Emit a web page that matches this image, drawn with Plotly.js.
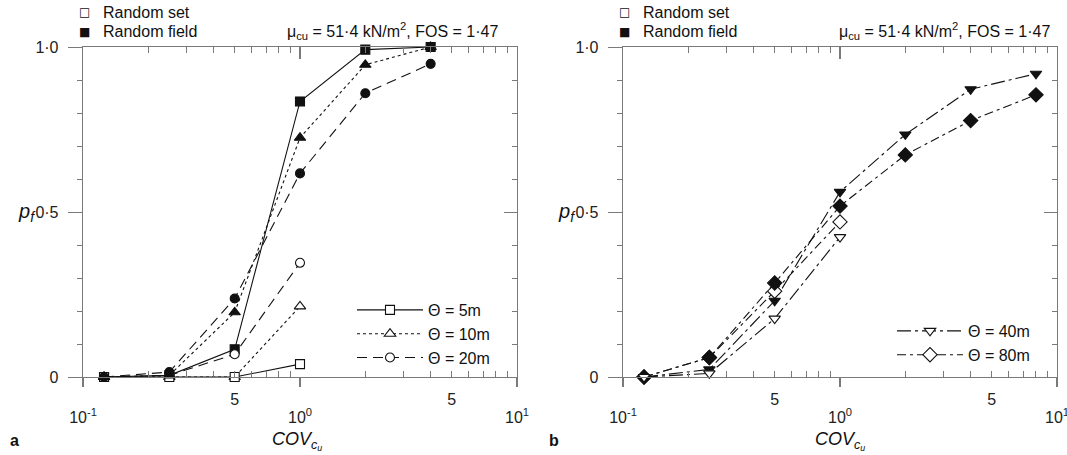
<!DOCTYPE html>
<html>
<head>
<meta charset="utf-8">
<script src="https://cdn.plot.ly/plotly-3.0.1.min.js"></script>
<style>html,body{margin:0;padding:0;background:#fff;}#chart{width:1067px;height:455px;}</style>
</head>
<body>
<div id="chart"></div>
<script>
// ---------- DATA ----------
const covA_field = [0.125, 0.25, 0.5, 1, 2, 4];
const covA_set   = [0.125, 0.25, 0.5, 1];
const covB_field = [0.125, 0.25, 0.5, 1, 2, 4, 8];
const covB_set   = [0.125, 0.25, 0.5, 1];

// panel a, random field (filled)
const pfA_field_5m  = [0, 0.005, 0.084, 0.835, 0.992, 1.0];
const pfA_field_10m = [0, 0.005, 0.196, 0.725, 0.946, 1.0];
const pfA_field_20m = [0, 0.015, 0.238, 0.617, 0.860, 0.949];
// panel a, random set (open)
const pfA_set_5m  = [0, 0, 0, 0.039];
const pfA_set_10m = [0, 0, 0, 0.214];
const pfA_set_20m = [0, 0.005, 0.069, 0.346];

// panel b, random field (filled)
const pfB_field_40m = [0, 0.023, 0.231, 0.561, 0.735, 0.872, 0.919];
const pfB_field_80m = [0, 0.059, 0.285, 0.518, 0.673, 0.777, 0.855];
// panel b, random set (open)
const pfB_set_40m = [0, 0.011, 0.177, 0.424];
const pfB_set_80m = [0, 0.059, 0.260, 0.470];

const legendNames = ['Θ = 5m', 'Θ = 10m', 'Θ = 20m', 'Θ = 40m', 'Θ = 80m'];
const yMajorVals = [0, 0.5, 1];
const yMajorText = ['0', '0·5', '1·0'];
const yMinorVals = [0.1, 0.2, 0.3, 0.4, 0.6, 0.7, 0.8, 0.9];
const xMinorVals = [0.2, 0.3, 0.4, 0.5, 0.6, 0.7, 0.8, 0.9, 2, 3, 4, 5, 6, 7, 8, 9];
const xMinorText = ['', '', '', '5', '', '', '', '', '', '', '', '5', '', '', '', ''];
const xDecadeVals = [0.1, 1, 10];
const xDecadeText = ['10<sup>-1</sup>', '10<sup>0</sup>', '10<sup>1</sup>'];

// ---------- STYLE ----------
const W = 1067, H = 455;
const px = v => v / W;
const py = v => 1 - v / H;
const FONT = 'Liberation Sans, Arial, Helvetica, sans-serif';
const INK = '#111';
const FRAME = '#7a7a7a';
const LW = 1.1;

function tr(x, y, xa, ya, symbol, filled, dash, name, legend, showlegend) {
  return {
    type: 'scatter', mode: 'lines+markers', x: x, y: y, xaxis: xa, yaxis: ya,
    name: name, legend: legend, showlegend: showlegend,
    line: {color: INK, width: LW, dash: dash},
    marker: {symbol: symbol, size: symbol.indexOf('triangle') === 0 ? 10 : (symbol === 'diamond' ? 11 : 9),
             color: filled ? INK : 'white', line: {color: INK, width: 1.1}},
    cliponaxis: false
  };
}

const dash20 = '10px,6px';
const dash40 = '14px,4px,3px,4px';
const dash80 = '9px,4px,3px,4px';

// Each overlay axis set carries one trace so that Plotly draws it.
const data = [
  tr(covA_field, pfA_field_5m,  'x',  'y',  'square', true, 'solid', legendNames[0], 'legend', false),
  tr(covA_field, pfA_field_10m, 'x3', 'y3', 'triangle-up', true, 'dot', legendNames[1], 'legend', false),
  tr(covA_field, pfA_field_20m, 'x5', 'y5', 'circle', true, dash20, legendNames[2], 'legend', false),
  tr(covA_set, pfA_set_5m,  'x', 'y7', 'square', false, 'solid', legendNames[0], 'legend', true),
  tr(covA_set, pfA_set_10m, 'x', 'y', 'triangle-up', false, 'dot', legendNames[1], 'legend', true),
  tr(covA_set, pfA_set_20m, 'x', 'y', 'circle', false, dash20, legendNames[2], 'legend', true),

  tr(covB_field, pfB_field_40m, 'x2', 'y2', 'triangle-down', true, dash40, legendNames[3], 'legend2', false),
  tr(covB_field, pfB_field_80m, 'x4', 'y4', 'diamond', true, dash80, legendNames[4], 'legend2', false),
  tr(covB_set, pfB_set_40m, 'x6', 'y6', 'triangle-down', false, dash40, legendNames[3], 'legend2', true),
  tr(covB_set, pfB_set_80m, 'x2', 'y8', 'diamond', false, dash80, legendNames[4], 'legend2', true)
];

const tickFont = {family: FONT, size: 16, color: '#222'};
const yDomain = [py(377), py(47)];
const common = {showgrid: false, zeroline: false, fixedrange: true, tickcolor: FRAME, ticklabeloverflow: 'allow'};

// x: minor ticks (inside, both sides) + '5' labels
function mainX(domain, anchor) {
  return Object.assign({}, common, {type: 'log', range: [-1, 1], domain: domain, anchor: anchor,
    tickmode: 'array', tickvals: xMinorVals, ticktext: xMinorText,
    ticks: 'inside', ticklen: 6, tickwidth: 1,
    mirror: 'ticks', showline: true, linecolor: FRAME, linewidth: 1.3,
    tickfont: tickFont, ticklabelstandoff: 7});
}
// x: decade ticks outside at bottom + labels
function decadeX(overlay, anchor) {
  return Object.assign({}, common, {type: 'log', range: [-1, 1], overlaying: overlay, anchor: anchor, side: 'bottom',
    tickmode: 'array', tickvals: xDecadeVals, ticktext: xDecadeText,
    ticks: 'outside', ticklen: 9, tickwidth: 1.3, showline: false,
    tickfont: tickFont, ticklabelstandoff: 17});
}
// x: decade ticks inside at top
function decadeTopX(overlay, anchor) {
  return Object.assign({}, common, {type: 'log', range: [-1, 1], overlaying: overlay, anchor: anchor, side: 'top',
    tickmode: 'array', tickvals: xDecadeVals, ticks: 'inside', ticklen: 12, tickwidth: 1.3,
    showticklabels: false, showline: false});
}
// y: major ticks outside left with labels + frame
function mainY(domain, anchor) {
  return Object.assign({}, common, {range: [0, 1], domain: domain, anchor: anchor,
    tickmode: 'array', tickvals: yMajorVals, ticktext: yMajorText,
    ticks: 'outside', ticklen: 14, tickwidth: 1,
    showline: true, mirror: true, linecolor: FRAME, linewidth: 1.3,
    tickfont: tickFont, ticklabelstandoff: 6});
}
// y: minor ticks outside left
function minorLeftY(overlay, anchor) {
  return Object.assign({}, common, {range: [0, 1], overlaying: overlay, anchor: anchor, side: 'left',
    tickmode: 'array', tickvals: yMinorVals, ticks: 'outside', ticklen: 5, tickwidth: 1,
    showticklabels: false, showline: false});
}
// y: minor ticks inside right
function minorRightY(overlay, anchor) {
  return Object.assign({}, common, {range: [0, 1], overlaying: overlay, anchor: anchor, side: 'right',
    tickmode: 'array', tickvals: yMinorVals, ticks: 'inside', ticklen: 5, tickwidth: 1,
    showticklabels: false, showline: false});
}
// y: middle tick inside right
function midRightY(overlay, anchor) {
  return Object.assign({}, common, {range: [0, 1], overlaying: overlay, anchor: anchor, side: 'right',
    tickmode: 'array', tickvals: [0.5], ticks: 'inside', ticklen: 13, tickwidth: 1,
    showticklabels: false, showline: false});
}

const txt = (t, x, y, opts) => Object.assign({
  text: t, xref: 'paper', yref: 'paper', x: px(x), y: py(y), showarrow: false,
  xanchor: 'center', yanchor: 'middle', font: {family: FONT, size: 16, color: INK}
}, opts || {});

const annotations = [];
[[0, 'a', 297, 27], [540, 'b', 840, 567]].forEach(([dx, lab, cx, pyx]) => {
  annotations.push(txt('□', dx + 84, 12, {font: {family: 'DejaVu Sans', size: 12, color: INK}}));
  annotations.push(txt('■', dx + 84, 32, {font: {family: 'DejaVu Sans', size: 12, color: INK}}));
  annotations.push(txt('Random set', dx + 101, 12, {xanchor: 'left'}));
  annotations.push(txt('Random field', dx + 101, 32, {xanchor: 'left'}));
  annotations.push(txt('<i>p<sub>f</sub></i>', pyx, 212, {font: {family: FONT, size: 20, color: INK}}));
  annotations.push(txt('<i>COV<sub>c<sub>u</sub></sub></i>', cx, 441, {font: {family: FONT, size: 18, color: INK}}));
  annotations.push(txt('<b>' + lab + '</b>', dx + 14, 440, {font: {family: FONT, size: 16, color: INK}}));
});
annotations.push(txt('μ<sub>cu</sub> = 51·4 kN/m<sup>2</sup>, FOS = 1·47', 500, 31, {xanchor: 'right'}));
annotations.push(txt('μ<sub>cu</sub> = 51·4 kN/m<sup>2</sup>, FOS = 1·47', 1052, 31, {xanchor: 'right'}));

const legendBase = {font: {family: FONT, size: 16, color: INK}, bgcolor: 'rgba(0,0,0,0)',
  xref: 'paper', yref: 'paper', xanchor: 'left', yanchor: 'top', itemwidth: 66,
  tracegroupgap: 0, itemclick: false, itemdoubleclick: false};

const layout = {
  width: W, height: H, margin: {l: 0, r: 0, t: 0, b: 0},
  paper_bgcolor: 'white', plot_bgcolor: 'white', font: {family: FONT, color: INK},
  xaxis: mainX([px(83), px(517)], 'y'),
  xaxis3: decadeX('x', 'y'),
  xaxis5: decadeTopX('x', 'y'),
  yaxis: mainY(yDomain, 'x'),
  yaxis3: minorLeftY('y', 'x'),
  yaxis5: minorRightY('y', 'x'),
  yaxis7: midRightY('y', 'x'),
  xaxis2: mainX([px(623), px(1057)], 'y2'),
  xaxis4: decadeX('x2', 'y2'),
  xaxis6: decadeTopX('x2', 'y2'),
  yaxis2: mainY(yDomain, 'x2'),
  yaxis4: minorLeftY('y2', 'x2'),
  yaxis6: minorRightY('y2', 'x2'),
  yaxis8: midRightY('y2', 'x2'),
  legend: Object.assign({}, legendBase, {x: px(352), y: py(293)}),
  legend2: Object.assign({}, legendBase, {x: px(892), y: py(314)}),
  annotations: annotations
};

Plotly.newPlot('chart', data, layout, {displayModeBar: false, staticPlot: true});
</script>
</body>
</html>
